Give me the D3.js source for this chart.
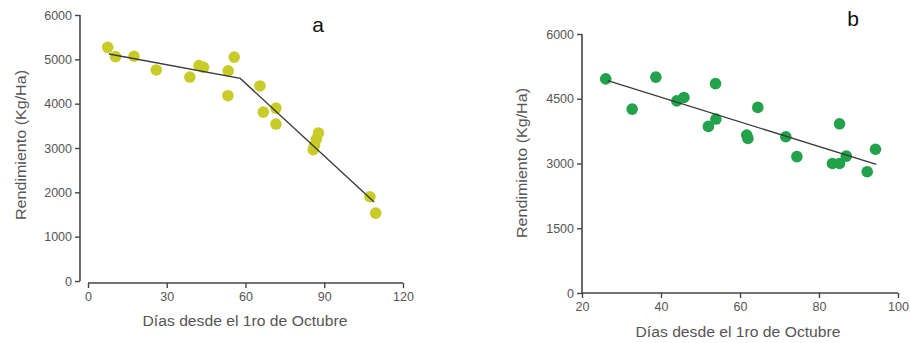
<!DOCTYPE html>
<html>
<head>
<meta charset="utf-8">
<script src="https://cdn.jsdelivr.net/npm/d3@7"></script>
<style>
  body { margin: 0; background: #fff; }
  svg text { font-family: "Liberation Sans", Arial, sans-serif; }
</style>
</head>
<body>
<svg id="chart" width="910" height="343"></svg>
<script>
// panel a: sowing date vs yield, broken-line fit
const daysA = [7.5, 10.5, 17.5, 26, 38.8, 42.3, 44, 53.4, 55.7, 53.3, 65.5, 66.8, 71.6, 71.6, 85.8, 86.3, 87, 87.8, 107.4, 109.6];
const yieldA = [5270, 5060, 5070, 4760, 4600, 4860, 4820, 4740, 5050, 4180, 4400, 3810, 3900, 3540, 2960, 3060, 3200, 3340, 1900, 1530];
const fitDaysA = [8, 58, 109];
const fitYieldA = [5120, 4570, 1780];
const xTicksA = [0, 30, 60, 90, 120];
const yTicksA = [0, 1000, 2000, 3000, 4000, 5000, 6000];

// panel b: linear fit
const daysB = [26, 32.7, 38.7, 44, 45.8, 53.8, 53.9, 52, 61.7, 62, 64.5, 71.6, 74.4, 83.4, 85.2, 85.2, 86.9, 92.2, 94.3];
const yieldB = [4960, 4260, 5000, 4450, 4530, 4850, 4030, 3860, 3660, 3580, 4300, 3620, 3160, 3000, 3000, 3920, 3170, 2810, 3330];
const fitDaysB = [26.5, 94.5];
const fitYieldB = [4920, 2980];
const xTicksB = [20, 40, 60, 80, 100];
const yTicksB = [0, 1500, 3000, 4500, 6000];

const svg = d3.select('#chart');
const axisColor = '#444';
const textColor = '#555';

function panel(opts) {
  const g = svg.append('g');

  const x = d3.scaleLinear().domain(opts.xDomain).range(opts.xRange);
  const y = d3.scaleLinear().domain(opts.yDomain).range(opts.yRange);

  // y axis
  const yAxis = g.append('g')
    .attr('transform', `translate(${opts.yAxisX},0)`)
    .call(d3.axisLeft(y).tickValues(opts.yTicks).tickSize(5).tickPadding(3).tickFormat(d3.format('d')));

  // x axis
  const xAxis = g.append('g')
    .attr('transform', `translate(0,${opts.xAxisY})`)
    .call(d3.axisBottom(x).tickValues(opts.xTicks).tickSize(5).tickPadding(4).tickFormat(d3.format('d')));

  [yAxis, xAxis].forEach(a => {
    a.select('.domain').attr('stroke', axisColor).attr('stroke-width', 1.6);
    a.selectAll('.tick line').attr('stroke', axisColor).attr('stroke-width', 1.4);
    a.selectAll('.tick text').attr('fill', textColor).attr('font-size', 12.5);
  });
  // prism style: no outer tick at the ends
  yAxis.select('.domain').attr('d', `M0,${y(opts.yDomain[1])}V${y(opts.yDomain[0])}`);
  xAxis.select('.domain').attr('d', `M${x(opts.xDomain[0])},0H${x(opts.xDomain[1])}`);

  // points
  g.append('g').selectAll('circle')
    .data(opts.days.map((d, i) => [d, opts.yields[i]]))
    .enter()
    .append('circle')
    .attr('cx', d => x(d[0]))
    .attr('cy', d => y(d[1]))
    .attr('r', 5.8)
    .attr('fill', opts.color);

  // fitted line
  const line = d3.line().x(d => x(d[0])).y(d => y(d[1]));
  g.append('path')
    .datum(opts.fitDays.map((d, i) => [d, opts.fitYields[i]]))
    .attr('d', line)
    .attr('fill', 'none')
    .attr('stroke', '#3a3a3a')
    .attr('stroke-width', 1.4);

  // titles
  g.append('text')
    .attr('x', opts.xTitleCX)
    .attr('y', opts.xTitleY)
    .attr('text-anchor', 'middle')
    .attr('fill', textColor)
    .attr('font-size', 14)
    .attr('textLength', 205)
    .attr('lengthAdjust', 'spacingAndGlyphs')
    .text('Días desde el 1ro de Octubre');

  g.append('text')
    .attr('transform', `translate(${opts.yTitleX},${opts.yTitleCY}) rotate(-90)`)
    .attr('text-anchor', 'middle')
    .attr('fill', textColor)
    .attr('font-size', 14)
    .attr('textLength', 150)
    .attr('lengthAdjust', 'spacingAndGlyphs')
    .text('Rendimiento (Kg/Ha)');

  g.append('text')
    .attr('x', opts.labelX)
    .attr('y', opts.labelY)
    .attr('text-anchor', 'middle')
    .attr('fill', '#111')
    .attr('font-size', 21)
    .text(opts.label);
}

panel({
  days: daysA, yields: yieldA, fitDays: fitDaysA, fitYields: fitYieldA,
  xTicks: xTicksA, yTicks: yTicksA,
  xDomain: [0, 120], xRange: [88, 403],
  yDomain: [0, 6000], yRange: [281, 15],
  yAxisX: 80, xAxisY: 283,
  xTitleCX: 245, xTitleY: 326, yTitleX: 26, yTitleCY: 145,
  color: '#c9cc28', label: 'a', labelX: 318, labelY: 32
});

panel({
  days: daysB, yields: yieldB, fitDays: fitDaysB, fitYields: fitYieldB,
  xTicks: xTicksB, yTicks: yTicksB,
  xDomain: [20, 100], xRange: [582, 898],
  yDomain: [0, 6000], yRange: [293, 34],
  yAxisX: 582, xAxisY: 293,
  xTitleCX: 738, xTitleY: 337, yTitleX: 527, yTitleCY: 163,
  color: '#22a24a', label: 'b', labelX: 853, labelY: 26
});
</script>
</body>
</html>
